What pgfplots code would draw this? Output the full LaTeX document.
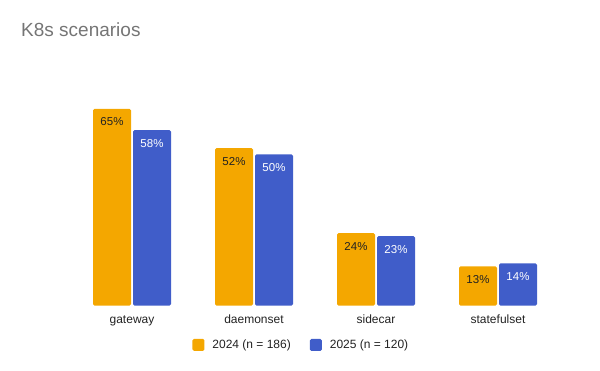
\documentclass[border=0pt]{standalone}
\usepackage{fontspec}
\setmainfont{Liberation Sans}
\usepackage{pgfplots}
\pgfplotsset{compat=1.18}
\definecolor{c24}{HTML}{F4A700}
\definecolor{c25}{HTML}{405DC9}
\definecolor{titlegray}{HTML}{757575}
\definecolor{labeltext}{HTML}{222222}
\begin{document}
\begin{tikzpicture}[x=1pt,y=1pt]
\path[use as bounding box] (0,0) rectangle (600,371);
\node[anchor=base west, text=titlegray, font=\fontsize{19}{22}\selectfont, inner sep=0pt] at (21,334) {K8s scenarios};
\begin{axis}[
  at={(71pt,65.3pt)}, anchor=south west,
  scale only axis, width=488pt, height=212pt,
  xmin=-0.5, xmax=3.5, ymin=0, ymax=70,
  clip=false,
  /pgf/number format/assume math mode=true,
  axis line style={draw=none},
  major tick length=0pt,
  ytick=\empty,
  xtick={0,1,2,3},
  xticklabels={gateway,daemonset,sidecar,statefulset},
  xticklabel style={anchor=base, yshift=-17.7pt, font=\fontsize{12}{14}\selectfont, text=labeltext, inner sep=0pt},
  ybar, bar width=38pt,
  nodes near coords={\pgfmathprintnumber{\pgfplotspointmeta}\%},
  every node near coord/.append style={anchor=base, yshift=-17pt, font=\fontsize{11.5}{14}\selectfont, inner sep=0pt},
  legend columns=2,
  legend style={at={(0.472,-0.185)}, anchor=center, draw=none, fill=none, inner sep=0pt,
    font=\fontsize{12}{14}\selectfont, text=labeltext,
    /tikz/every even column/.append style={column sep=17pt},
    /tikz/every odd column/.append style={column sep=6pt}},
]
\addplot[ybar, bar shift=-20pt, fill=c24, draw=none, rounded corners=1.5pt,
  every node near coord/.append style={text=labeltext},
  legend image code/.code={\fill[c24] (0pt,-6pt) rectangle (12pt,6pt);}]
  coordinates {(0,65) (1,52) (2,24) (3,13)};
\addplot[ybar, bar shift=20pt, fill=c25, draw=none, rounded corners=1.5pt,
  every node near coord/.append style={text=white},
  legend image code/.code={\fill[c25] (0pt,-6pt) rectangle (12pt,6pt);}]
  coordinates {(0,58) (1,50) (2,23) (3,14)};
\legend{{2024 (n = 186)},{2025 (n = 120)}}
\end{axis}
\end{tikzpicture}
\end{document}
